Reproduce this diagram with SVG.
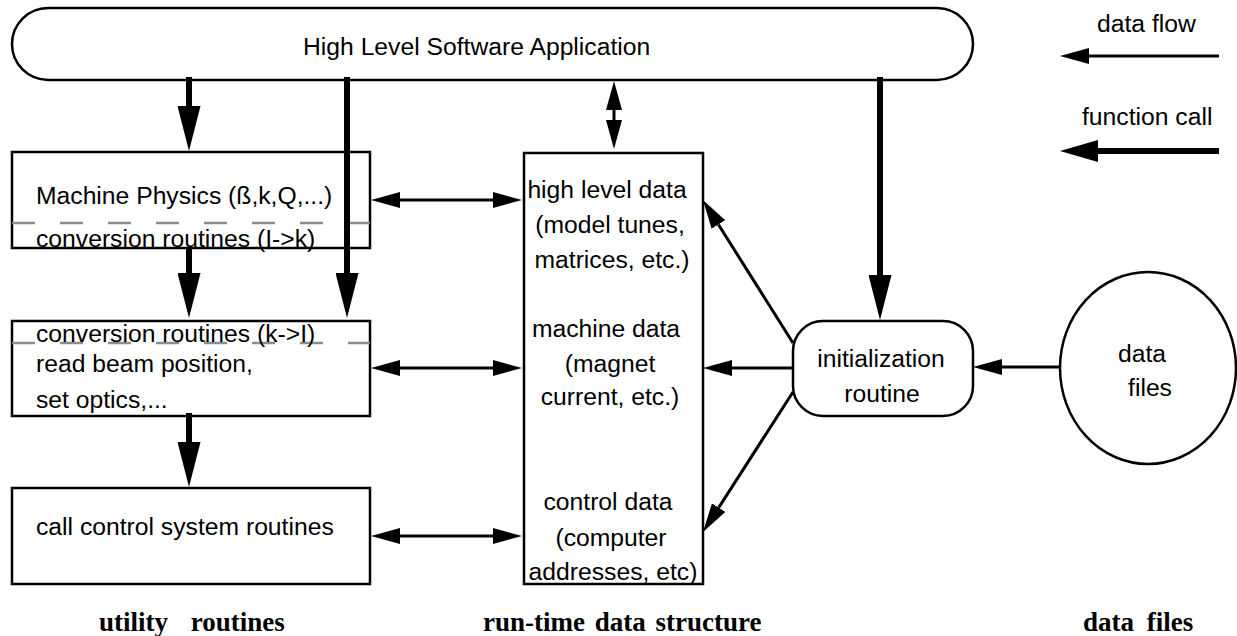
<svg xmlns="http://www.w3.org/2000/svg" width="1237" height="636" viewBox="0 0 1237 636">
  <style>
    .shape { fill: #ffffff; stroke: #000000; stroke-width: 2.5; }
    .label { font-family: "Liberation Sans", Arial, sans-serif; font-size: 24.7px; fill: #000000; }
    .mid { text-anchor: middle; }
    .caption { font-family: "Liberation Serif", "Times New Roman", serif; font-size: 27px; font-weight: bold; fill: #000000; }
    .divider { stroke: #8c8c8c; stroke-width: 2.5; stroke-dasharray: 23 25; fill: none; }
    .call { stroke: #000000; stroke-width: 6; fill: none; marker-end: url(#callHead); }
    .flow { stroke: #000000; stroke-width: 3; fill: none; marker-end: url(#flowHead); }
    .flow2 { stroke: #000000; stroke-width: 3; fill: none; marker-start: url(#flowHead); marker-end: url(#flowHead); }
  </style>
  <defs>
    <!-- heavy arrowhead: function call -->
    <marker id="callHead" markerUnits="userSpaceOnUse" viewBox="0 0 45 23" refX="0" refY="11.5" markerWidth="45" markerHeight="23" orient="auto-start-reverse">
      <path d="M0,0 L45,11.5 L0,23 Z" fill="#000000"/>
    </marker>
    <marker id="callHeadShort" markerUnits="userSpaceOnUse" viewBox="0 0 38 22" refX="0" refY="11" markerWidth="38" markerHeight="22" orient="auto-start-reverse">
      <path d="M0,0 L38,11 L0,22 Z" fill="#000000"/>
    </marker>
    <!-- light arrowhead: data flow -->
    <marker id="flowHead" markerUnits="userSpaceOnUse" viewBox="0 0 29 16" refX="0" refY="8" markerWidth="29" markerHeight="16" orient="auto-start-reverse">
      <path d="M0,0 L29,8 L0,16 Z" fill="#000000"/>
    </marker>
  </defs>

  <rect width="1237" height="636" fill="#ffffff"/>

  <!-- application layer -->
  <g id="app">
    <rect class="shape" x="12" y="8" width="961" height="72" rx="36" ry="36"/>
    <text class="label" x="303" y="55">High Level Software Application</text>
  </g>

  <!-- utility routines column -->
  <g id="machine-physics">
    <rect class="shape" x="12" y="152" width="358" height="96"/>
    <line class="divider" x1="12" y1="223" x2="370" y2="223"/>
    <text class="label" x="36" y="204">Machine Physics (ß,k,Q,...)</text>
    <text class="label" x="36" y="247">conversion routines (I-&gt;k)</text>
  </g>

  <g id="hardware-access">
    <rect class="shape" x="12" y="321" width="358" height="95"/>
    <line class="divider" x1="12" y1="343" x2="370" y2="343"/>
    <text class="label" x="36" y="342">conversion routines (k-&gt;I)</text>
    <text class="label" x="36" y="372">read beam position,</text>
    <text class="label" x="36" y="408">set optics,...</text>
  </g>

  <g id="control-system">
    <rect class="shape" x="12" y="488" width="358" height="96"/>
    <text class="label" x="36" y="535">call control system routines</text>
  </g>

  <!-- run-time data structure -->
  <g id="data-structure">
    <rect class="shape" x="524" y="153" width="179" height="431"/>
    <text class="label mid" x="607" y="198">high level data</text>
    <text class="label mid" x="610" y="233">(model tunes,</text>
    <text class="label mid" x="612" y="268">matrices, etc.)</text>
    <text class="label mid" x="606" y="337">machine data</text>
    <text class="label mid" x="610" y="372">(magnet</text>
    <text class="label mid" x="610" y="405">current, etc.)</text>
    <text class="label mid" x="608" y="510">control data</text>
    <text class="label mid" x="611" y="546">(computer</text>
    <text class="label mid" x="613" y="580">addresses, etc)</text>
  </g>

  <g id="init-routine">
    <rect class="shape" x="793" y="321" width="180" height="95" rx="30" ry="30"/>
    <text class="label mid" x="881" y="367">initialization</text>
    <text class="label mid" x="882" y="402">routine</text>
  </g>

  <g id="data-files">
    <ellipse class="shape" cx="1148" cy="368" rx="88" ry="96"/>
    <text class="label mid" x="1142" y="362">data</text>
    <text class="label mid" x="1150" y="396">files</text>
  </g>

  <!-- legend -->
  <g id="legend">
    <text class="label" x="1097" y="32">data flow</text>
    <line class="flow" x1="1219" y1="56" x2="1089" y2="56"/>
    <text class="label" x="1082" y="125">function call</text>
    <line x1="1219" y1="151" x2="1098" y2="151" stroke="#000000" stroke-width="6" marker-end="url(#callHeadShort)"/>
  </g>

  <!-- column captions -->
  <g id="captions">
    <text class="caption" x="99" y="631" word-spacing="16">utility routines</text>
    <text class="caption" x="483" y="631" word-spacing="3">run-time data structure</text>
    <text class="caption" x="1083" y="631" word-spacing="6">data files</text>
  </g>

  <!-- connectors -->
  <g id="connectors">
    <!-- function calls -->
    <line class="call" x1="189" y1="77" x2="189" y2="106"/>
    <line class="call" x1="347" y1="77" x2="347" y2="273"/>
    <line class="call" x1="189" y1="247" x2="189" y2="273"/>
    <line class="call" x1="189" y1="413" x2="189" y2="442"/>
    <line class="call" x1="880" y1="77" x2="880" y2="275"/>

    <!-- data flows -->
    <line class="flow2" x1="614" y1="110" x2="614" y2="120"/>
    <line class="flow2" x1="400" y1="200" x2="493" y2="200"/>
    <line class="flow2" x1="400" y1="368" x2="493" y2="368"/>
    <line class="flow2" x1="400" y1="536" x2="493" y2="536"/>
    <line class="flow" x1="793" y1="368" x2="732" y2="368"/>
    <line class="flow" x1="1060" y1="367" x2="1002" y2="367"/>
    <line class="flow" x1="793" y1="343" x2="718.4" y2="224.5"/>
    <line class="flow" x1="793" y1="392" x2="718.7" y2="507.6"/>
  </g>
</svg>
